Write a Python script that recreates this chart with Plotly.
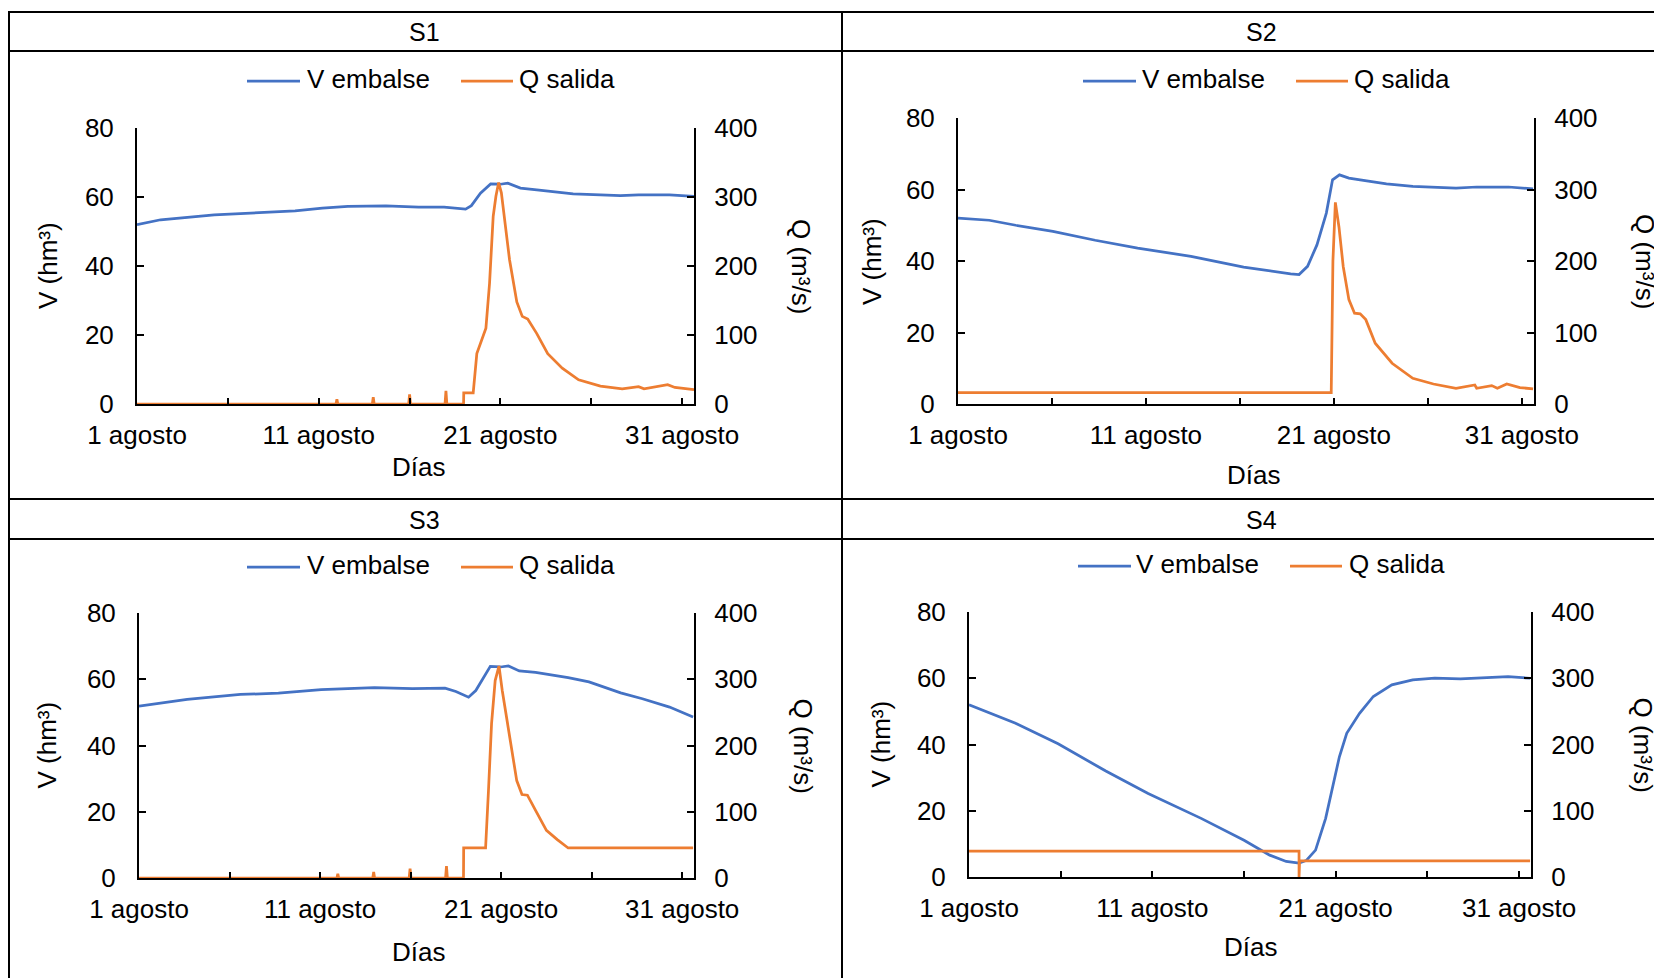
import plotly.graph_objects as go

W, H = 1662, 978

# ---------------- data (days since 1 August 00:00) ----------------
x_tickvals = [0, 10, 20, 30]
x_ticktext = ["1 agosto", "11 agosto", "21 agosto", "31 agosto"]
x_minor_ticks = [5, 15, 25]
v_ticks = [0, 20, 40, 60, 80]
q_ticks = [0, 100, 200, 300, 400]
panel_titles = ["S1", "S2", "S3", "S4"]
series_names = ["V embalse", "Q salida"]
axis_titles = ["V (hm³)", "Q (m³/s)", "Días"]

# S1
s1_v_t = [0, 1.3, 4.25, 7.2, 8.7, 10.2, 11.6, 13.7, 15.5, 16.9, 18.08, 18.4, 18.9, 19.46, 20.0, 20.4, 21.1, 22.0, 24.0, 25.5, 26.6, 27.6, 29.3, 30.65]
s1_v = [52.0, 53.4, 54.8, 55.6, 56.0, 56.8, 57.3, 57.4, 57.1, 57.1, 56.5, 57.5, 61.1, 63.8, 63.7, 64.0, 62.6, 62.1, 60.9, 60.6, 60.4, 60.6, 60.6, 60.2]
s1_q_t = [0, 10.95, 11.0, 11.05, 12.95, 13.0, 13.05, 14.95, 15.0, 15.05, 16.95, 17.0, 17.05, 17.97, 17.98, 18.5, 18.7, 19.2, 19.4, 19.6, 19.75, 19.9, 20.05, 20.2, 20.5, 20.9, 21.2, 21.5, 22.0, 22.6, 23.4, 24.3, 25.5, 26.7, 27.6, 27.9, 28.8, 29.2, 29.6, 30.65]
s1_q = [0, 0, 7, 0, 0, 10, 0, 0, 14, 0, 0, 19, 0, 0, 16, 16, 73, 110, 175, 272, 301, 321, 306, 272, 209, 148, 127, 123, 102, 73, 52, 35, 26, 22, 25, 22, 26, 28, 24, 21]

# S2
s2_v_t = [0, 1.66, 3.07, 5.05, 7.3, 9.56, 12.4, 15.2, 17.7, 18.15, 18.6, 19.1, 19.6, 19.93, 20.3, 20.8, 21.4, 22.8, 24.2, 26.5, 27.6, 29.3, 30.6]
s2_v = [52.0, 51.4, 50.0, 48.3, 45.8, 43.6, 41.3, 38.3, 36.4, 36.2, 38.5, 44.5, 53.4, 62.7, 64.1, 63.2, 62.7, 61.6, 60.9, 60.4, 60.7, 60.7, 60.2]
s2_q_t = [0, 19.86, 19.95, 20.08, 20.27, 20.5, 20.8, 21.1, 21.4, 21.7, 22.2, 23.1, 24.2, 25.3, 26.5, 27.5, 27.6, 28.4, 28.7, 29.2, 29.9, 30.6]
s2_q = [16, 16, 200, 282, 248, 192, 146, 127, 126, 118, 85, 57, 36, 28, 22, 26.6, 22, 25.7, 22, 28, 23, 21]

# S3
s3_v_t = [0, 2.66, 5.6, 7.7, 10.06, 13.0, 15.1, 16.9, 17.5, 18.2, 18.6, 19.4, 19.97, 20.4, 21.0, 21.9, 23.7, 24.85, 26.6, 27.8, 29.3, 30.6]
s3_v = [51.9, 53.9, 55.4, 55.8, 56.9, 57.5, 57.2, 57.3, 56.3, 54.6, 56.6, 63.9, 63.7, 64.0, 62.5, 62.1, 60.5, 59.2, 55.9, 54.1, 51.6, 48.6]
s3_q_t = [0, 10.93, 10.98, 11.03, 12.91, 12.96, 13.01, 14.92, 14.97, 15.02, 16.93, 16.98, 17.03, 17.92, 17.93, 19.14, 19.3, 19.47, 19.67, 19.88, 20.06, 20.3, 20.56, 20.86, 21.15, 21.45, 21.9, 22.5, 23.1, 23.7, 30.6]
s3_q = [0, 0, 6.5, 0, 0, 9, 0, 0, 14, 0, 0, 18, 0, 0, 45.3, 45.3, 132, 233, 298, 320, 283, 243, 193, 147, 126, 125, 102, 72, 58, 45.3, 45.3]

# S4
s4_v_t = [0, 1.1, 2.54, 4.86, 7.46, 9.77, 12.66, 15.0, 16.4, 17.3, 18.0, 18.4, 18.9, 19.45, 20.2, 20.6, 21.3, 22.05, 23.06, 24.2, 25.4, 26.8, 27.98, 29.4, 30.6]
s4_v = [52.0, 49.6, 46.4, 40.2, 32.0, 25.2, 17.7, 11.1, 6.6, 4.7, 4.2, 5.0, 8.1, 17.7, 36.3, 43.4, 49.4, 54.5, 58.0, 59.5, 60.0, 59.8, 60.2, 60.5, 60.0]
s4_q_t = [0, 18.0, 18.0, 18.03, 30.6]
s4_q = [38.9, 38.9, 0, 24.2, 24.2]

V_T = [s1_v_t, s2_v_t, s3_v_t, s4_v_t]
V_Y = [s1_v, s2_v, s3_v, s4_v]
Q_T = [s1_q_t, s2_q_t, s3_q_t, s4_q_t]
Q_Y = [s1_q, s2_q, s3_q, s4_q]

# ---------------- layout geometry (page pixels) ----------------
BLUE = "#4472C4"
ORANGE = "#ED7D31"
FONT = "Liberation Sans, Arial, sans-serif"
FS = 26
TXT = dict(family=FONT, size=FS, color="black")
OFF = 8  # page body margin

panels = [
    dict(l=137, r=694, t=128, b=404, title=(424, 32), leg=(247, 305, 461, 517, 79), yl=48, yr=801, dias=(418, 467)),
    dict(l=958, r=1534, t=118, b=404, title=(1261, 32), leg=(1083, 1140, 1296, 1352, 79), yl=872, yr=1645, dias=(1253, 475)),
    dict(l=139, r=694, t=613, b=878, title=(424, 520), leg=(247, 305, 461, 517, 565), yl=46, yr=803, dias=(418, 952)),
    dict(l=969, r=1531, t=612, b=877, title=(1261, 520), leg=(1078, 1134, 1290, 1347, 564), yl=880, yr=1643, dias=(1250, 947)),
]

def px(xp):
    return (xp - OFF) / W

def py(yp):
    return 1 - (yp - OFF) / H

fig = go.Figure()
layout = dict(
    width=W, height=H, margin=dict(l=0, r=0, t=0, b=0, pad=0, autoexpand=False),
    paper_bgcolor="white", plot_bgcolor="white", showlegend=False,
    font=TXT,
)
shapes = []
annotations = []

for i, p in enumerate(panels):
    n = i + 1
    xa = "xaxis" if n == 1 else f"xaxis{n}"
    ya = f"yaxis{2*n-1}" if n > 1 else "yaxis"
    yb = f"yaxis{2*n}"
    xref = "x" if n == 1 else f"x{n}"
    yref1 = "y" if n == 1 else f"y{2*n-1}"
    yref2 = f"y{2*n}"
    dom_x = [px(p["l"]), px(p["r"])]
    dom_y = [py(p["b"]), py(p["t"])]
    layout[xa] = dict(
        domain=dom_x, range=[0, 30.65], anchor=yref1, automargin=False,
        tickvals=x_tickvals, ticktext=x_ticktext, ticks="inside", ticklen=6,
        tickwidth=2, tickcolor="black", showline=True, linecolor="black", linewidth=2,
        minor=dict(tickvals=x_minor_ticks, ticks="inside", ticklen=6, tickwidth=2,
                   tickcolor="black", showgrid=False),
        showgrid=False, zeroline=False, ticklabelstandoff=7, tickfont=TXT,
    )
    layout[ya] = dict(
        domain=dom_y, range=[0, 80], anchor=xref, tickvals=v_ticks, automargin=False,
        ticks="inside", ticklen=7, tickwidth=2, tickcolor="black",
        showline=True, linecolor="black", linewidth=2, showgrid=False, zeroline=False,
        ticklabelstandoff=16, tickfont=TXT,
    )
    layout[yb] = dict(
        domain=dom_y, range=[0, 400], anchor=xref, overlaying=yref1, side="right",
        tickvals=q_ticks, ticks="inside", ticklen=7, tickwidth=2, tickcolor="black",
        automargin=False, showline=True, linecolor="black", linewidth=2, showgrid=False,
        zeroline=False, ticklabelstandoff=13, tickfont=TXT,
    )
    fig.add_trace(go.Scatter(x=V_T[i], y=V_Y[i], mode="lines", name=series_names[0],
                             line=dict(color=BLUE, width=2.75), xaxis=xref, yaxis=yref1))
    fig.add_trace(go.Scatter(x=Q_T[i], y=Q_Y[i], mode="lines", name=series_names[1],
                             line=dict(color=ORANGE, width=2.75), xaxis=xref, yaxis=yref2))

    annotations.append(dict(x=px(p["title"][0]), y=py(p["title"][1]), xref="paper", yref="paper",
                            text=panel_titles[i], showarrow=False, xanchor="center", yanchor="middle",
                            font=dict(family=FONT, size=25, color="black")))
    l1, t1, l2, t2, ly = p["leg"]
    shapes.append(dict(type="line", xref="paper", yref="paper", x0=px(l1), x1=px(l1 + 53),
                       y0=py(ly + 2), y1=py(ly + 2), line=dict(color=BLUE, width=2.75)))
    shapes.append(dict(type="line", xref="paper", yref="paper", x0=px(l2), x1=px(l2 + 52),
                       y0=py(ly + 2), y1=py(ly + 2), line=dict(color=ORANGE, width=2.75)))
    annotations.append(dict(x=px(t1), y=py(ly), xref="paper", yref="paper", text=series_names[0],
                            showarrow=False, xanchor="left", yanchor="middle", font=TXT))
    annotations.append(dict(x=px(t2), y=py(ly), xref="paper", yref="paper", text=series_names[1],
                            showarrow=False, xanchor="left", yanchor="middle", font=TXT))
    ymid = (p["t"] + p["b"]) / 2
    annotations.append(dict(x=px(p["yl"]), y=py(ymid), xref="paper", yref="paper",
                            text=axis_titles[0], textangle=-90, showarrow=False,
                            xanchor="center", yanchor="middle", font=TXT))
    annotations.append(dict(x=px(p["yr"]), y=py(ymid), xref="paper", yref="paper",
                            text=axis_titles[1], textangle=90, showarrow=False,
                            xanchor="center", yanchor="middle", font=TXT))
    annotations.append(dict(x=px(p["dias"][0]), y=py(p["dias"][1]), xref="paper", yref="paper",
                            text=axis_titles[2], showarrow=False, xanchor="center", yanchor="middle",
                            font=TXT))

def hline(yp, x0=OFF + 1, x1=W + OFF):
    return dict(type="line", xref="paper", yref="paper", x0=px(x0), x1=px(x1), y0=py(yp), y1=py(yp),
                line=dict(color="black", width=2))

def vline(xp, y0=11, y1=H + OFF):
    return dict(type="line", xref="paper", yref="paper", x0=px(xp), x1=px(xp), y0=py(y0), y1=py(y1),
                line=dict(color="black", width=2))

shapes += [hline(12), hline(51), hline(499), hline(539), vline(OFF + 1), vline(842)]

layout["shapes"] = shapes
layout["annotations"] = annotations
fig.update_layout(**layout)
fig.write_html("out.html")
